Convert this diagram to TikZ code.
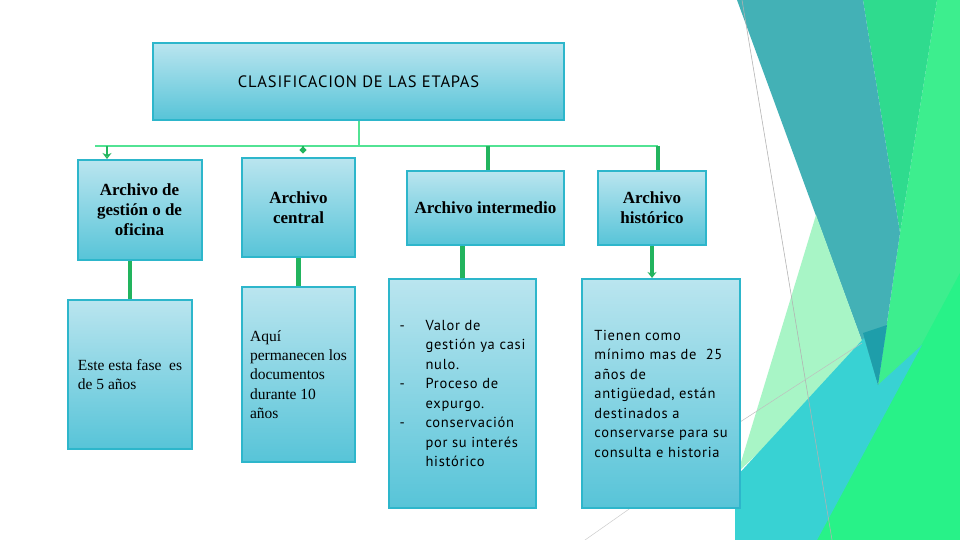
\documentclass[tikz,border=0pt]{standalone}
\usepackage{fontspec}
\setmainfont{Liberation Serif}
\newfontfamily\twsans{PT Sans}[LetterSpace=5]
\usepackage{xcolor}
\usetikzlibrary{arrows.meta,positioning}

\definecolor{boxtop}{HTML}{BAE5EF}
\definecolor{boxbot}{HTML}{57C4D8}
\definecolor{boxline}{HTML}{2DB6CB}
\definecolor{busgreen}{HTML}{52E394}
\definecolor{linkgreen}{HTML}{22B45E}
\definecolor{decoteal}{HTML}{43B1B6}
\definecolor{decodark}{HTML}{1E9EAA}
\definecolor{decomid}{HTML}{2FDB8E}
\definecolor{decolight}{HTML}{3DEE8E}
\definecolor{decobright}{HTML}{28F288}
\definecolor{decomint}{HTML}{A8F5C6}
\definecolor{decocyan}{HTML}{38D2D3}

\begin{document}
\begin{tikzpicture}[x=1pt,y=-1pt,>=Stealth,
  etapa/.style={draw=boxline,line width=2pt,top color=boxtop,bottom color=boxbot,inner sep=4pt},
  head/.style={etapa,align=center,font=\fontsize{17}{20}\selectfont\bfseries},
  note/.style={etapa,align=left},
  bus/.style={draw=busgreen,line width=2pt},
  link/.style={draw=linkgreen,line width=4.5pt}]
  \useasboundingbox (0,0) rectangle (960,540);
  \fill[white] (0,0) rectangle (960,540);
  % decoration on the right
  \fill[decolight] (937,0) -- (960,0) -- (960,540) -- (815,540) -- (878,385) -- (900,233) -- cycle;
  \fill[decobright] (817,540) -- (960,273) -- (960,540) -- cycle;
  \fill[decomid] (863,0) -- (937,0) -- (900,233) -- cycle;
  \fill[decoteal] (737,0) -- (863,0) -- (900,233) -- (878,385) -- cycle;
  \fill[decomint] (816,215) -- (866,352) -- (738,472) -- cycle;
  \fill[decocyan] (735,478) -- (864,338) -- (878,385) -- (922,345) -- (817,540) -- (735,540) -- cycle;
  \fill[decodark] (863,333) -- (887,325) -- (878,385) -- cycle;
  \draw[gray!60,line width=0.6pt] (742,0) -- (832,540);
  \draw[gray!50,line width=0.5pt] (740,422) -- (862,343);
  \draw[gray!40,line width=0.5pt] (585,540) -- (632,507);

  % title and the four stages
  \node[etapa,minimum width=411,minimum height=77,font=\twsans\fontsize{16.5}{20}\selectfont] (titulo) at (358.5,81.5) {CLASIFICACION DE LAS ETAPAS};
  \node[head,minimum width=124,minimum height=100] (gestion) at (139.5,210) {Archivo de\\gestión o de\\oficina};
  \node[head,minimum width=113,minimum height=99] (central) at (298.5,207.5) {Archivo\\central};
  \node[head,minimum width=157,minimum height=74] (intermedio) at (485.5,208) {Archivo intermedio};
  \node[head,minimum width=108,minimum height=74] (historico) at (652,208) {Archivo\\histórico};

  % descriptions
  \node[note,minimum width=124,minimum height=149,font=\fontsize{15.5}{18.5}\selectfont] (lowgestion) at (130,374.5)
    {Este esta fase~~es\\de 5 años};
  \node[note,minimum width=113,minimum height=175,font=\fontsize{15.5}{19.3}\selectfont] (lowcentral) at (298.5,374.5)
    {Aquí\\permanecen los\\documentos\\durante 10\\años};
  \node[note,minimum width=147,minimum height=229,font=\twsans\fontsize{14.5}{19.5}\selectfont] (lowint) at (462.5,393.5)
    {\makebox[26pt][l]{-}Valor de\\\hspace*{26pt}gestión ya casi\\\hspace*{26pt}nulo.\\
     \makebox[26pt][l]{-}Proceso de\\\hspace*{26pt}expurgo.\\
     \makebox[26pt][l]{-}conservación\\\hspace*{26pt}por su interés\\\hspace*{26pt}histórico};
  \node[note,minimum width=158,minimum height=229,font=\twsans\fontsize{14.5}{19.5}\selectfont] (lowhist) at (661,393.5)
    {Tienen como\\mínimo mas de~~25\\años de\\antigüedad, están\\destinados a\\conservarse para su\\consulta e historia};

  % bus from the title
  \coordinate (tapG) at (107,146);
  \coordinate (tapC) at (303,146);
  \coordinate (tapI) at (488,146);
  \coordinate (tapH) at (658,146);
  \coordinate (busL) at (95,146);
  \draw[bus] (busL) -- (tapH);
  \draw[bus] (titulo.south) -- (titulo.south |- busL);
  \draw[link,line width=2.5pt,-{Stealth[length=6pt,width=9pt,open,fill=busgreen]}] (tapG) -- (gestion.north -| tapG);
  \draw[link,line width=2.5pt,-{Circle[length=6pt]}] (tapC) -- ([yshift=4pt]central.north -| tapC);
  \draw[link] (tapI) -- (intermedio.north -| tapI);
  \draw[link,line width=4pt] (tapH) -- (historico.north -| tapH);

  % stage to description
  \draw[link] (gestion.south -| lowgestion.north) -- (lowgestion.north);
  \draw[link] (central.south -| lowcentral.north) -- (lowcentral.north);
  \draw[link] (intermedio.south -| lowint.north) -- (lowint.north);
  \draw[link,-{Stealth[length=6pt,width=9pt]}] (historico.south) -- (historico.south |- lowhist.north);
\end{tikzpicture}
\end{document}
